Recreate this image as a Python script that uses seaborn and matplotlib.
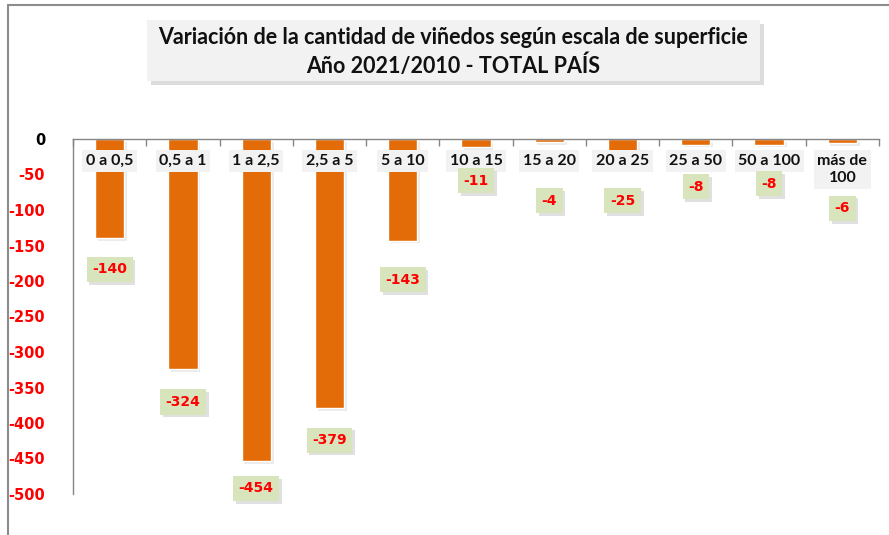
import matplotlib
matplotlib.use("Agg")
import matplotlib.pyplot as plt
import matplotlib.patheffects as pe
from matplotlib.patches import Rectangle
from matplotlib.lines import Line2D
import seaborn as sns

# datos: variacion de la cantidad de viñedos 2021/2010
escalas = ["0 a 0,5", "0,5 a 1", "1 a 2,5", "2,5 a 5", "5 a 10", "10 a 15",
           "15 a 20", "20 a 25", "25 a 50", "50 a 100", "más de\n100"]
variacion = [-140, -324, -454, -379, -143, -11, -4, -25, -8, -8, -6]
yticks = list(range(-500, 1, 50))

# desplazamiento (px) de cada etiqueta de valor bajo la barra
label_off = [31, 33, 27, 32, 39, 34, 59, 44, 42, 39, 65]

NARROW = ["Lato", "DejaVu Sans"]
NARANJA = "#e36c09"
GRIS = "#868686"

W, H = 889, 535
fig = plt.figure(figsize=(W / 100, H / 100), dpi=100)
sns.set_style("white")

ax = fig.add_axes([73 / W, 1 - 494 / H, (879 - 73) / W, (494 - 139) / H])
sns.barplot(x=list(range(len(escalas))), y=variacion, color=NARANJA, width=0.4,
            saturation=1, ax=ax)
for p in ax.patches:
    p.set_path_effects([pe.SimplePatchShadow(offset=(2, -2), shadow_rgbFace="#c8c8c8", alpha=0.35),
                        pe.Normal()])

ax.set_ylim(-500, 0)
ax.set_xlim(-0.5, len(escalas) - 0.5)
ax.set_yticks(yticks)
ax.set_yticklabels([str(t) for t in yticks], fontsize=10.5, fontweight="bold",
                   family="DejaVu Sans")
for lab, t in zip(ax.get_yticklabels(), yticks):
    lab.set_color("black" if t == 0 else "#ff0000")
ax.tick_params(axis="y", direction="out", length=6, color=GRIS, width=1, pad=14)

# eje x en el cero con marcas entre categorias
ax.set_xticks([])
ax.set_xticks([i - 0.5 for i in range(len(escalas) + 1)], minor=True)
ax.xaxis.set_ticks_position("top")
ax.tick_params(axis="x", which="minor", direction="in", length=5, color=GRIS, width=1)
ax.set_xlabel("")
for s in ["bottom", "right"]:
    ax.spines[s].set_visible(False)
for s in ["top", "left"]:
    ax.spines[s].set_color(GRIS)
    ax.spines[s].set_linewidth(1)

for i, name in enumerate(escalas):
    ax.annotate(name, (i, 0), xytext=(0, -15 * 0.72), textcoords="offset points",
                ha="center", va="top", fontsize=11.5, fontweight="bold", family=NARROW,
                color="#111111", linespacing=1.3,
                bbox=dict(boxstyle="square,pad=0.22", fc="#f2f2f2", ec="none"))

for i, (v, off) in enumerate(zip(variacion, label_off)):
    t = ax.annotate(str(v), (i, v), xytext=(0, -off * 0.72), textcoords="offset points",
                    ha="center", va="center", fontsize=10, fontweight="bold",
                    family="DejaVu Sans", color="#ff0000",
                    bbox=dict(boxstyle="square,pad=0.4", fc="#d8e4bc", ec="none"))
    t.get_bbox_patch().set_path_effects([
        pe.SimplePatchShadow(offset=(2, -2), shadow_rgbFace="#bbbbbb", alpha=0.45), pe.Normal()])

# caja del titulo
box = Rectangle((147 / W, 1 - 81 / H), (760 - 147) / W, 61 / H, transform=fig.transFigure,
                fc="#f2f2f2", ec="none", zorder=1)
box.set_path_effects([pe.SimplePatchShadow(offset=(3, -3), shadow_rgbFace="#bbbbbb", alpha=0.5),
                      pe.Normal()])
fig.patches.append(box)
fig.text(453 / W, 1 - 38 / H, "Variación de la cantidad de viñedos según escala de superficie",
         ha="center", va="center", fontsize=15.5, fontweight="bold", family=NARROW,
         color="#111111", zorder=2)
fig.text(453 / W, 1 - 66 / H, "Año 2021/2010 - TOTAL PAÍS",
         ha="center", va="center", fontsize=15.5, fontweight="bold", family=NARROW,
         color="#111111", zorder=2)

# marco del grafico
fig.add_artist(Line2D([8 / W, 8 / W], [0, 1 - 5 / H], transform=fig.transFigure,
                      color="#8c8c8c", lw=1.5))
fig.add_artist(Line2D([8 / W, 1], [1 - 5 / H, 1 - 5 / H], transform=fig.transFigure,
                      color="#8c8c8c", lw=1.5))

fig.savefig("out.png", dpi=100)
